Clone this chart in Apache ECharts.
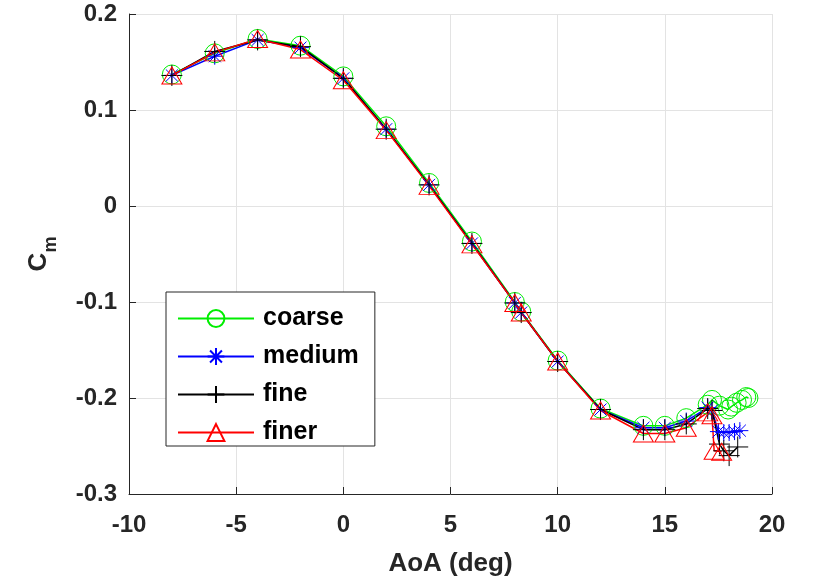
<!DOCTYPE html>
<html>
<head>
<meta charset="utf-8">
<script src="https://cdn.jsdelivr.net/npm/echarts@6/dist/echarts.min.js"></script>
<style>html,body{margin:0;padding:0;background:#fff}#c{width:817px;height:580px}</style>
</head>
<body>
<div id="c"></div>
<script>
var xTicks = [-10, -5, 0, 5, 10, 15, 20];
var yTicks = [-0.3, -0.2, -0.1, 0, 0.1, 0.2];

var coarseX = [-8,-6,-4,-2,0,2,4,6,8,8.3,10,12,14,15,16,17,17.2,17.55,17.95,18.1,18.35,18.6,18.8,18.9];
var coarseY = [0.137,0.159,0.174,0.167,0.135,0.083,0.024,-0.037,-0.100,-0.110,-0.161,-0.211,-0.229,-0.229,-0.221,-0.207,-0.202,-0.208,-0.212,-0.209,-0.205,-0.202,-0.199,-0.200];

var mediumX = [-8,-6,-4,-2,0,2,4,6,8,8.3,10,12,14,15,16,17,17.2,17.5,17.75,18,18.25,18.5];
var mediumY = [0.136,0.156,0.173,0.165,0.133,0.080,0.022,-0.039,-0.101,-0.111,-0.162,-0.212,-0.231,-0.231,-0.224,-0.210,-0.213,-0.235,-0.236,-0.236,-0.235,-0.234];

var fineX = [-8,-6,-4,-2,0,2,4,6,8,8.3,10,12,14,15,16,17,17.2,17.55,17.75,18,18.4];
var fineY = [0.136,0.161,0.173,0.166,0.133,0.080,0.022,-0.039,-0.101,-0.111,-0.162,-0.212,-0.233,-0.233,-0.227,-0.211,-0.213,-0.248,-0.255,-0.260,-0.251];

var finerX = [-8,-6,-4,-2,0,2,4,6,8,8.3,10,12,14,15,16,17,17.2,17.3,17.65];
var finerY = [0.136,0.160,0.174,0.163,0.131,0.079,0.021,-0.040,-0.101,-0.111,-0.162,-0.213,-0.237,-0.237,-0.231,-0.215,-0.218,-0.255,-0.256];

function pairs(xs, ys) { return xs.map(function (x, i) { return [x, ys[i]]; }); }

var FONT = '"Liberation Sans", Arial, sans-serif';
var starPath = 'path://M0,-10L0,10M-10,0L10,0M-7.07,-7.07L7.07,7.07M-7.07,7.07L7.07,-7.07';
var plusPath = 'path://M0,-10L0,10M-10,0L10,0';
var triPath = 'path://M0,-10L11,8L-11,8Z';

function mk(name, xs, ys, color, symbol, size) {
  return {
    name: name, type: 'line', data: pairs(xs, ys),
    symbol: symbol, symbolSize: size, showAllSymbol: true,
    lineStyle: { color: color, width: 1.5 },
    itemStyle: { color: 'rgba(0,0,0,0)', borderColor: color, borderWidth: 1 },
    emphasis: { disabled: true },
    animation: false
  };
}

var chart = echarts.init(document.getElementById('c'), null, { renderer: 'canvas' });
chart.setOption({
  backgroundColor: '#fff',
  animation: false,
  grid: { left: 129, right: 45, top: 14, bottom: 86, outerBoundsMode: 'none', containLabel: false },
  legend: {
    left: 166, top: 292,
    orient: 'vertical',
    backgroundColor: '#fff',
    borderColor: '#262626', borderWidth: 1,
    padding: [14, 16, 1, 11],
    itemWidth: 76, itemHeight: 21, itemGap: 13,
    textStyle: { fontFamily: FONT, fontWeight: 'bold', fontSize: 25, lineHeight: 22, color: '#000', padding: [0, 0, 0, 4] },
    data: ['coarse', 'medium', 'fine', 'finer']
  },
  xAxis: {
    type: 'value', min: xTicks[0], max: xTicks[xTicks.length - 1], interval: 5,
    name: 'AoA (deg)', nameLocation: 'middle', nameGap: 57,
    nameTextStyle: { fontFamily: FONT, fontWeight: 'bold', fontSize: 26, color: '#262626' },
    axisLine: { onZero: false, lineStyle: { color: '#262626', width: 1 } },
    axisTick: { inside: true, length: 7, lineStyle: { color: '#262626' } },
    axisLabel: { fontFamily: FONT, fontWeight: 'bold', fontSize: 24, color: '#262626', margin: 19 },
    splitLine: { show: true, lineStyle: { color: '#e3e3e3', width: 1 } }
  },
  yAxis: {
    type: 'value', min: yTicks[0], max: yTicks[yTicks.length - 1], interval: 0.1,
    name: '{a|C}{b|m}', nameLocation: 'middle', nameGap: 69, nameRotate: 90,
    nameTextStyle: {
      color: '#262626',
      rich: {
        a: { fontFamily: FONT, fontWeight: 'bold', fontSize: 26, color: '#262626' },
        b: { fontFamily: FONT, fontWeight: 'bold', fontSize: 18, color: '#262626', padding: [24, 0, 0, 0] }
      }
    },
    axisLine: { show: true, onZero: false, lineStyle: { color: '#262626', width: 1 } },
    axisTick: { show: true, inside: true, length: 7, lineStyle: { color: '#262626' } },
    axisLabel: {
      fontFamily: FONT, fontWeight: 'bold', fontSize: 24, color: '#262626', margin: 12,
      formatter: function (v) { return String(+v.toFixed(1)); }
    },
    splitLine: { show: true, lineStyle: { color: '#e3e3e3', width: 1 } }
  },
  series: [
    mk('coarse', coarseX, coarseY, '#00ee00', 'circle', 19),
    mk('medium', mediumX, mediumY, '#0000ff', starPath, 17),
    mk('fine', fineX, fineY, '#000000', plusPath, 21),
    mk('finer', finerX, finerY, '#ff0000', triPath, [20, 17])
  ]
});
</script>
</body>
</html>
